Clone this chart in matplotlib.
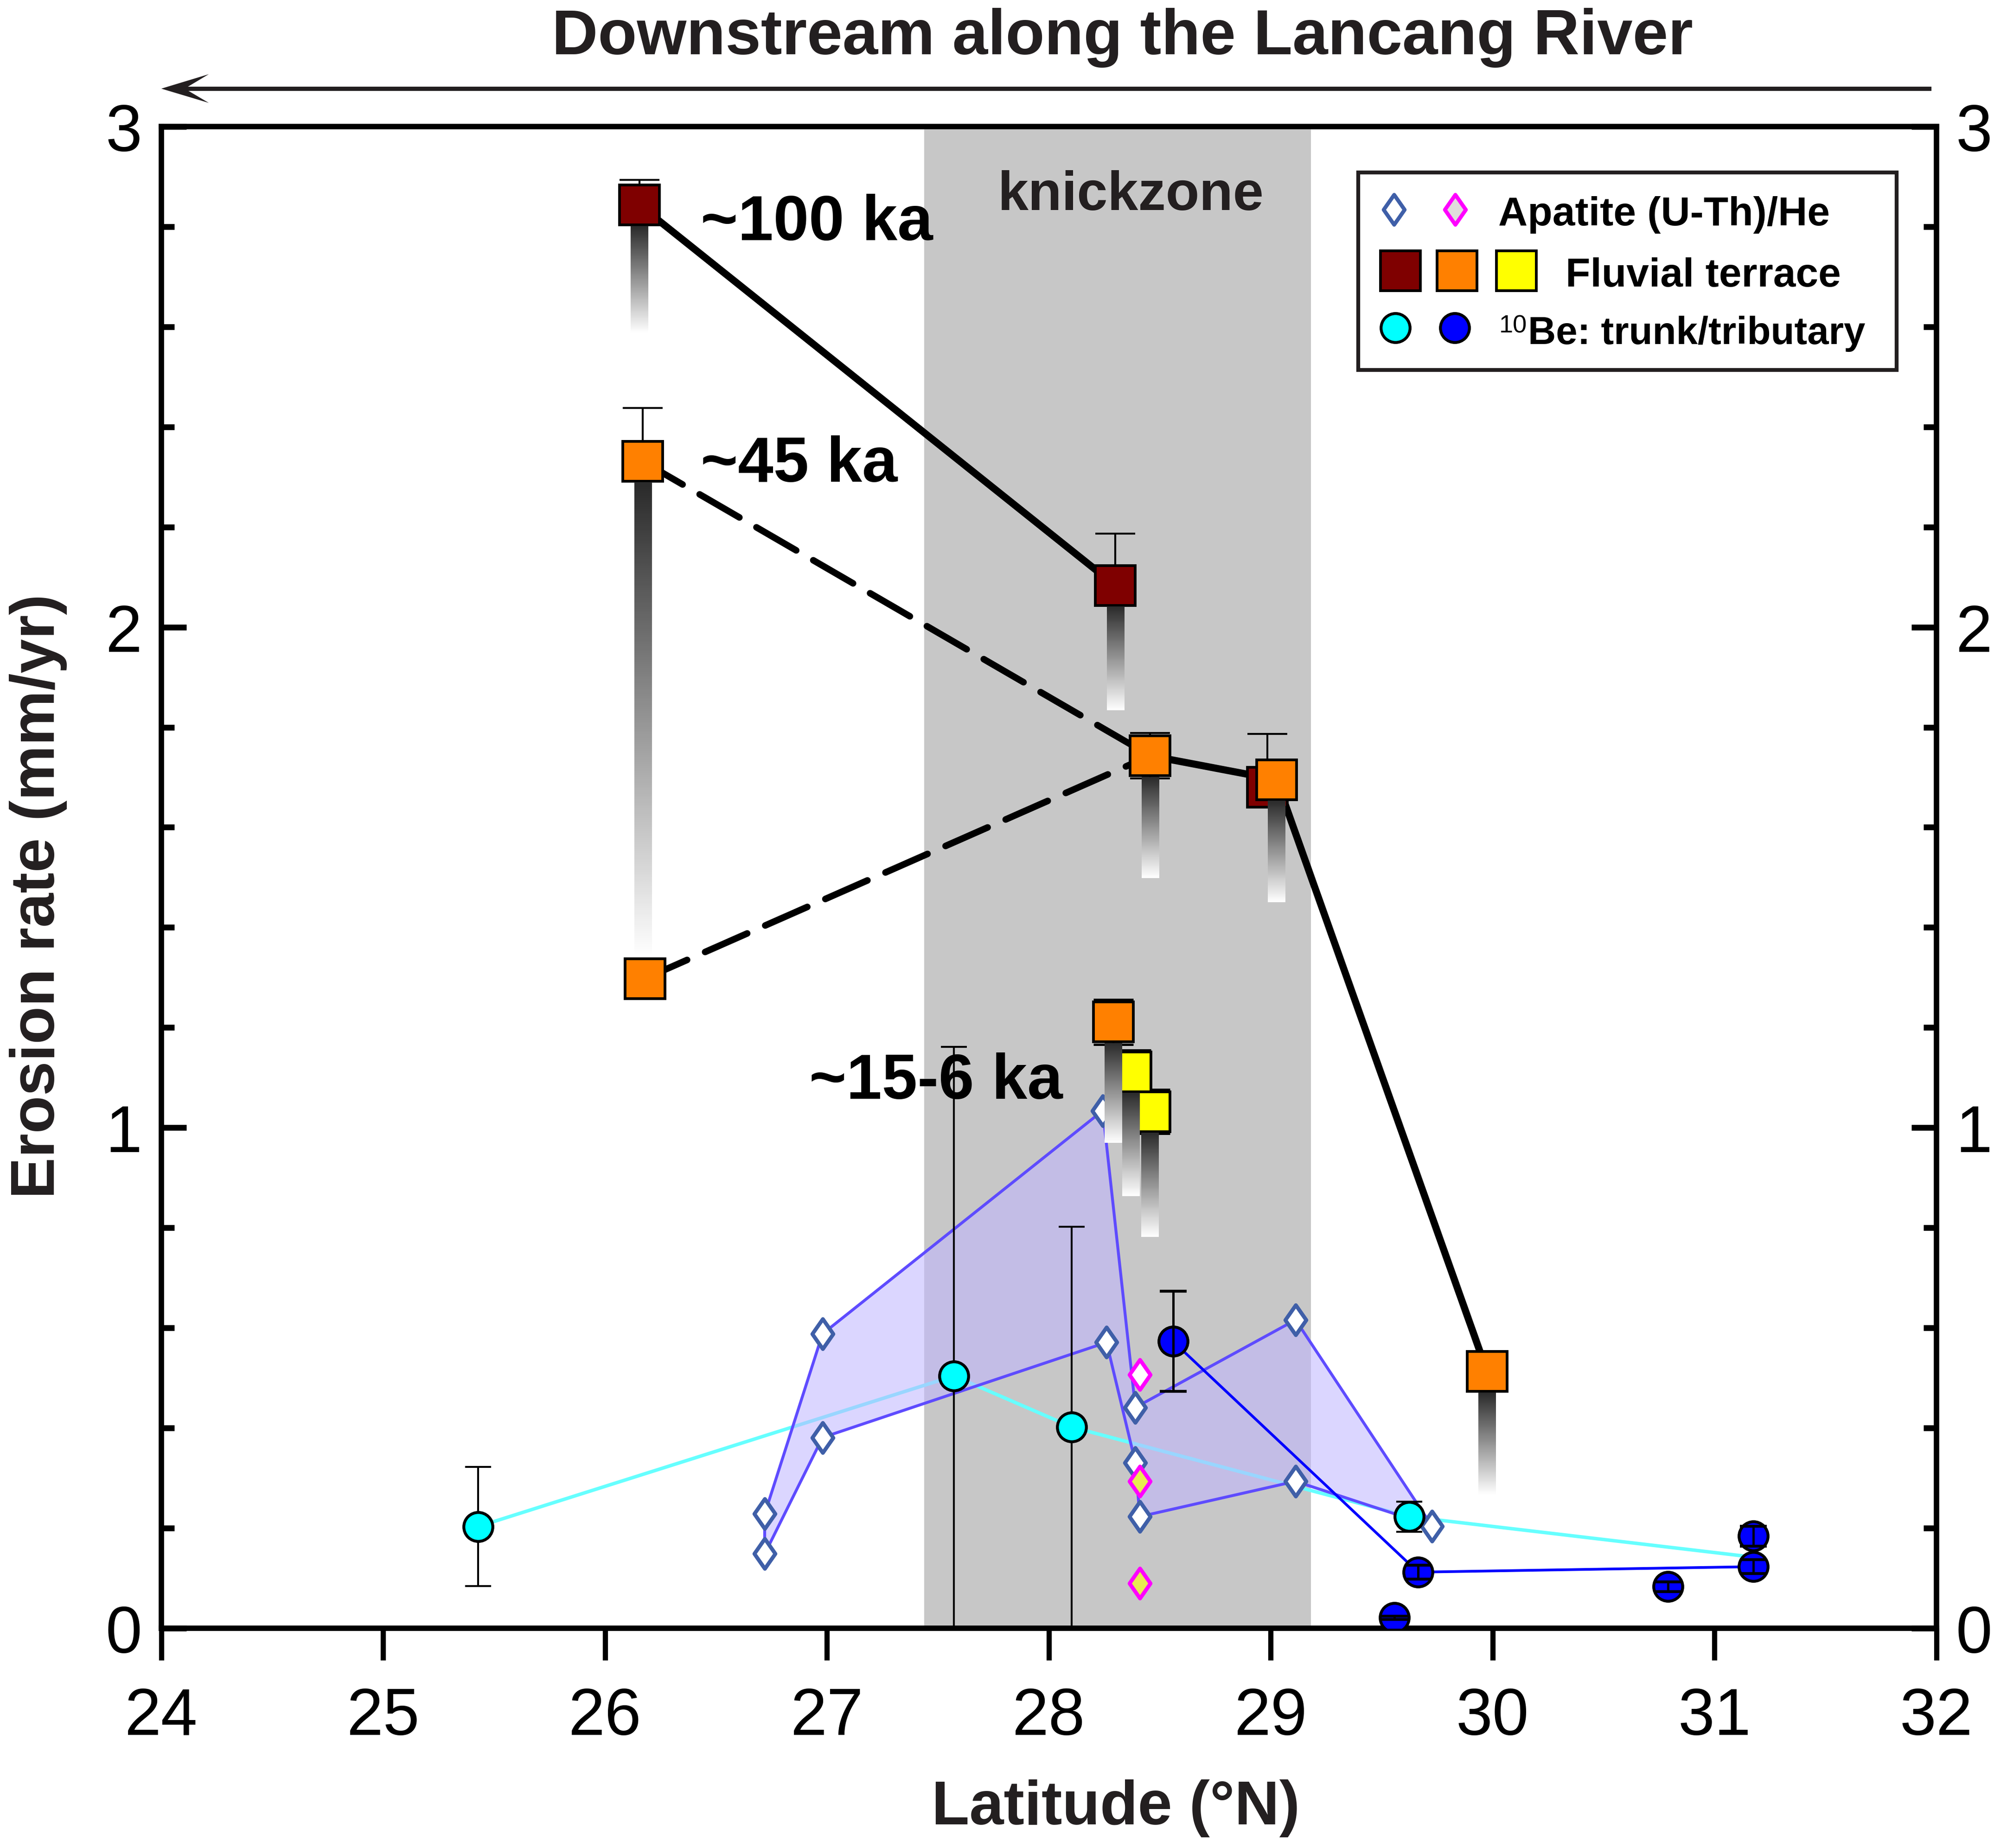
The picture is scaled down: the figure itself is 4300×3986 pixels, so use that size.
import numpy as np
import matplotlib
matplotlib.use('Agg')
import matplotlib.pyplot as plt
from matplotlib.colors import LinearSegmentedColormap
from matplotlib.patches import Rectangle, Polygon
from matplotlib.lines import Line2D
from matplotlib.path import Path
from matplotlib.ticker import MultipleLocator

plt.rcParams['font.family'] = ['Liberation Sans', 'DejaVu Sans']

#========================
#       DATA
#=========================
# fluvial terrace, ~100 ka (dark red)
t100_lat = [26.155, 28.30, 28.985]
t100_rate = [2.843, 2.083, 1.680]
t100_err_up = [0.05, 0.104, 0.107]
t100_err_dn = [0.0, 0.0, 0.035]
t100_fade_low = [2.588, 1.834, None]

# fluvial terrace, ~45 ka (orange)
t45_lat = [26.17, 26.18, 28.457, 29.026, 29.975]
t45_rate = [2.331, 1.298, 1.743, 1.695, 0.513]
t45_err_up = [0.107, 0.0, 0.045, 0.0, 0.0]
t45_err_dn = [0.0, 0.0, 0.045, 0.0, 0.0]
t45_fade_low = [1.34, None, 1.499, 1.45, 0.267]

# fluvial terrace, ~15-6 ka (orange + yellow)
young_lat = [28.29, 28.37, 28.455]
young_rate = [1.211, 1.111, 1.032]
young_err = [0.045, 0.044, 0.044]
young_fade_low = [0.970, 0.863, 0.782]
young_color = ['#ff8000', '#ffff00', '#ffff00']

# apatite (U-Th)/He, blue diamonds
ahe_lat = [26.72, 26.72, 26.98, 26.98, 28.243, 28.26, 28.39, 28.39, 28.41, 29.112, 29.112, 29.727]
ahe_rate = [0.229, 0.149, 0.588, 0.381, 1.034, 0.571, 0.441, 0.331, 0.223, 0.616, 0.2935, 0.204]
ahe_upper = [0, 2, 4, 6, 9, 11]          # indices of the upper envelope
ahe_lower = [11, 10, 8, 7, 5, 3, 1]      # indices of the lower envelope

# apatite (U-Th)/He, magenta diamonds
ahe2_lat = [28.41, 28.41, 28.41]
ahe2_rate = [0.507, 0.294, 0.090]
ahe2_face = ['white', '#e8ec50', '#e8ec50']

# 10Be trunk (cyan); last point is hidden under the tributary symbols
trunk_lat = [25.427, 27.572, 28.103, 29.624, 31.175]
trunk_rate = [0.203, 0.504, 0.402, 0.223, 0.142]
trunk_err = [0.119, 0.657, 0.40, 0.03, 0.0]
trunk_shown = 4

# 10Be tributary (blue)
trib_lat = [28.56, 29.664, 29.557, 30.79, 31.175, 31.175]
trib_rate = [0.573, 0.112, 0.021, 0.083, 0.184, 0.123]
trib_err = [0.10, 0.014, 0.003, 0.01, 0.02, 0.014]
trib_line = [0, 1, 5]

knick_lo, knick_hi = 27.438, 29.181

#========================
#       STYLE
#=========================
DARK = '#231f20'
DRED, ORANGE, YELLOW = '#7f0000', '#ff8000', '#ffff00'
CYAN, BLUE = '#00ffff', '#0000ff'
AHE_EDGE, AHE_LINE = '#3f5fa8', '#5e4bff'
SQ_MS, SQ_MEW = 20.5, 1.4
CI_MS = 15
DI_MS = 15.5
BAR_W = 0.078

DIAMOND = Path([(0, 1), (0.7, 0), (0, -1), (-0.7, 0), (0, 1)],
               [Path.MOVETO, Path.LINETO, Path.LINETO, Path.LINETO, Path.CLOSEPOLY])

W, H, DPI = 4300, 3987, 300
fig = plt.figure(figsize=(W / DPI, H / DPI), dpi=DPI)
ax = fig.add_axes([0.0809, 0.1189, 0.8902, 0.8124])

# half height of a square marker in data units (fade bars start below it)
px_per_unit = 0.8124 * H / 3.0
sq_half = (SQ_MS + SQ_MEW) / 2 * DPI / 72 / px_per_unit

ax.axvspan(knick_lo, knick_hi, color='#c7c7c7', lw=0, zorder=0)

# --- 10Be trunk
ax.plot(trunk_lat, trunk_rate, color='#66ffff', lw=1.8, zorder=2)
ax.errorbar(trunk_lat[:trunk_shown], trunk_rate[:trunk_shown], yerr=trunk_err[:trunk_shown],
            fmt='none', ecolor='k', elinewidth=1.0, capsize=6.8, capthick=1.0, zorder=3.2)

# --- apatite envelope
ahe_lat = np.array(ahe_lat)
ahe_rate = np.array(ahe_rate)
order = ahe_upper + ahe_lower
poly = np.column_stack([ahe_lat[order], ahe_rate[order]])
ax.add_patch(Polygon(poly, closed=True, facecolor='#c0b7ff', alpha=0.57,
                     edgecolor='none', zorder=2.5))
ax.plot(ahe_lat[ahe_upper], ahe_rate[ahe_upper], color=AHE_LINE, lw=1.5, zorder=2.6)
ax.plot(ahe_lat[ahe_lower], ahe_rate[ahe_lower], color=AHE_LINE, lw=1.5, zorder=2.6)
ax.plot(ahe_lat[[0, 1]], ahe_rate[[0, 1]], color=AHE_LINE, lw=1.5, zorder=2.6)

# --- 10Be tributary line
ax.plot([trib_lat[i] for i in trib_line], [trib_rate[i] for i in trib_line],
        color=BLUE, lw=1.4, zorder=3)

# --- terrace connecting lines
ax.plot(t100_lat[:2], t100_rate[:2], color='k', lw=3.7, solid_capstyle='round', zorder=3)
ax.plot(t45_lat[2:], t45_rate[2:], color='k', lw=3.7, solid_capstyle='round', zorder=3)
for i in (0, 1):
    ax.plot([t45_lat[i], t45_lat[2]], [t45_rate[i], t45_rate[2]], color='k', lw=3.4,
            dashes=(7, 3), dash_capstyle='round', zorder=3)

# --- apatite markers
ax.plot(ahe_lat, ahe_rate, ls='none', marker=DIAMOND, ms=DI_MS, mfc='white',
        mec=AHE_EDGE, mew=2, zorder=4)
for x, y, fc in zip(ahe2_lat, ahe2_rate, ahe2_face):
    ax.plot(x, y, ls='none', marker=DIAMOND, ms=DI_MS, mfc=fc, mec='#ff00ff',
            mew=2, zorder=4)

# --- terrace markers + error bars
ax.errorbar(t100_lat, t100_rate, yerr=[t100_err_dn, t100_err_up], fmt='none',
            ecolor='k', elinewidth=1.0, capsize=10.3, capthick=1.0, zorder=4.5)
ax.errorbar(t45_lat, t45_rate, yerr=[t45_err_dn, t45_err_up], fmt='none',
            ecolor='k', elinewidth=1.0, capsize=10.3, capthick=1.0, zorder=4.5)
ax.errorbar(young_lat, young_rate, yerr=young_err, fmt='none', ecolor='k',
            elinewidth=1.0, capsize=10.3, capthick=1.2, zorder=4.5)
ax.plot(t100_lat, t100_rate, ls='none', marker='s', ms=SQ_MS, mfc=DRED, mec='k',
        mew=SQ_MEW, zorder=5)
ax.plot(t45_lat, t45_rate, ls='none', marker='s', ms=SQ_MS, mfc=ORANGE, mec='k',
        mew=SQ_MEW, zorder=5)
for x, y, c in zip(young_lat, young_rate, young_color):
    ax.plot(x, y, ls='none', marker='s', ms=SQ_MS, mfc=c, mec='k', mew=SQ_MEW, zorder=5)

# --- fading bars under the terrace squares
grad = np.linspace(0, 1, 256).reshape(-1, 1)
fade_cmap = LinearSegmentedColormap.from_list('fade', ['#ffffff', '#2b2b2b'])


def fade_bar(x, y, low):
    if low is None:
        return
    ax.imshow(grad, extent=(x - BAR_W / 2, x + BAR_W / 2, low, y - sq_half),
              origin='lower', cmap=fade_cmap, aspect='auto',
              interpolation='bilinear', zorder=6)


for lat, rate, low in ((t100_lat, t100_rate, t100_fade_low),
                       (t45_lat, t45_rate, t45_fade_low),
                       (young_lat, young_rate, young_fade_low)):
    for x, y, lo in zip(lat, rate, low):
        fade_bar(x, y, lo)

# --- 10Be markers
ax.plot(trunk_lat[:trunk_shown], trunk_rate[:trunk_shown], ls='none', marker='o',
        ms=CI_MS, mfc=CYAN, mec='k', mew=1.5, zorder=5)
ax.plot(trib_lat, trib_rate, ls='none', marker='o', ms=CI_MS, mfc=BLUE, mec='k',
        mew=1.5, zorder=5.2)
ax.errorbar(trib_lat, trib_rate, yerr=trib_err, fmt='none', ecolor='k',
            elinewidth=1.2, capsize=7, capthick=1.5, zorder=5.3)

# --- labels inside the plot
ax.text(26.43, 2.774, '~100 ka', fontsize=33, fontweight='bold', zorder=3.1)
ax.text(26.43, 2.291, '~45 ka', fontsize=33, fontweight='bold', zorder=3.1)
ax.text(26.92, 1.059, '~15-6 ka', fontsize=33, fontweight='bold', zorder=3.1)
ax.text(28.37, 2.834, 'knickzone', fontsize=28.5, fontweight='bold', color=DARK,
        ha='center', zorder=1)

# --- legend (drawn by hand, in axes fraction)
ax.add_patch(Rectangle((0.6743, 0.838), 0.3032, 0.1313, transform=ax.transAxes,
                       facecolor='white', edgecolor=DARK, lw=2, zorder=7))
kw = dict(transform=ax.transAxes, ls='none', zorder=8, clip_on=False)
ax.plot(0.6944, 0.9447, marker=DIAMOND, ms=DI_MS, mfc='white', mec=AHE_EDGE, mew=2, **kw)
ax.plot(0.7288, 0.9447, marker=DIAMOND, ms=DI_MS, mfc='#e0dcdc', mec='#ff00ff', mew=2, **kw)
for x, c in zip((0.698, 0.730, 0.7633), (DRED, ORANGE, YELLOW)):
    ax.plot(x, 0.904, marker='s', ms=SQ_MS, mfc=c, mec='k', mew=SQ_MEW, **kw)
ax.plot(0.6951, 0.866, marker='o', ms=CI_MS, mfc=CYAN, mec='k', mew=1.5, **kw)
ax.plot(0.7286, 0.866, marker='o', ms=CI_MS, mfc=BLUE, mec='k', mew=1.5, **kw)
tkw = dict(transform=ax.transAxes, fontweight='bold', zorder=8)
ax.text(0.7531, 0.9345, 'Apatite (U-Th)/He', fontsize=21, **tkw)
ax.text(0.791, 0.8938, 'Fluvial terrace', fontsize=21, **tkw)
ax.text(0.7537, 0.8632, '10', fontsize=13, transform=ax.transAxes, zorder=8)
ax.text(0.7699, 0.8555, 'Be: trunk/tributary', fontsize=20, **tkw)

# --- axes
ax.set_xlim(24, 32)
ax.set_ylim(0, 3)
ax.xaxis.set_major_locator(MultipleLocator(1))
ax.yaxis.set_major_locator(MultipleLocator(1))
ax.yaxis.set_minor_locator(MultipleLocator(0.2))
ax.tick_params(axis='x', which='major', direction='out', length=16.5, width=2.7,
               pad=13.5, labelsize=34, top=False)
ax.tick_params(axis='y', which='major', direction='in', length=13, width=3,
               pad=10, labelsize=34, left=True, right=True,
               labelleft=True, labelright=True)
ax.tick_params(axis='y', which='minor', direction='in', length=6.7, width=3,
               left=True, right=True)
for sp in ax.spines.values():
    sp.set_linewidth(2.8)

ax.set_xlabel('Latitude (°N)', fontsize=32, fontweight='bold', color=DARK)
ax.xaxis.set_label_coords(0.5376, -0.1303)
ax.xaxis.label.set_verticalalignment('baseline')
ax.set_ylabel('Erosion rate (mm/yr)', fontsize=32, fontweight='bold', color=DARK)
ax.yaxis.set_label_coords(-0.0603, 0.4878)
ax.yaxis.label.set_verticalalignment('baseline')

# --- title and downstream arrow (figure fraction)
fig.text(0.5628, 0.9707, 'Downstream along the Lancang River', fontsize=33,
         fontweight='bold', color=DARK, ha='center', va='baseline')
fig.add_artist(Line2D([0.0926, 0.9674], [0.9518, 0.9518], color=DARK, lw=2.2,
                      transform=fig.transFigure))
fig.add_artist(Polygon([(0.0809, 0.9518), (0.1047, 0.9596), (0.0926, 0.9518),
                        (0.1047, 0.9441)], closed=True, facecolor=DARK,
                       edgecolor='none', transform=fig.transFigure))

fig.savefig('out.png', dpi=DPI)
